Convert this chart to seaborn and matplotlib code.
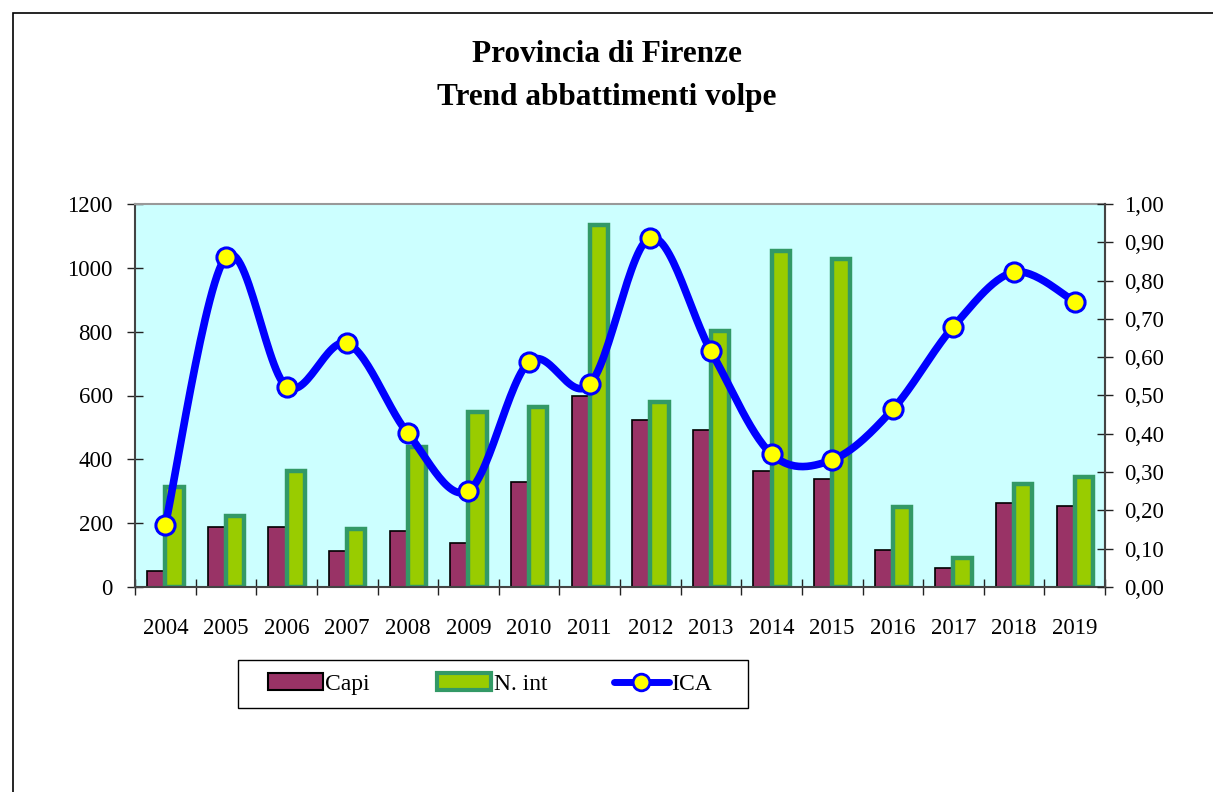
import numpy as np
import pandas as pd
import matplotlib
matplotlib.use("Agg")
import matplotlib.pyplot as plt
import seaborn as sns
from matplotlib.patches import Patch, Rectangle
from matplotlib.lines import Line2D
from matplotlib.ticker import FuncFormatter, MultipleLocator, FixedLocator

years = ["2004", "2005", "2006", "2007", "2008", "2009", "2010", "2011",
         "2012", "2013", "2014", "2015", "2016", "2017", "2018", "2019"]
capi = [51, 189, 187, 113, 175, 137, 330, 597, 522, 492, 364, 337, 115, 58, 262, 255]
n_int = [314, 222, 363, 181, 440, 548, 565, 1135, 580, 802, 1053, 1028, 250, 92, 323, 346]
ica = [0.162, 0.862, 0.523, 0.636, 0.401, 0.251, 0.588, 0.529,
       0.912, 0.616, 0.347, 0.332, 0.464, 0.680, 0.822, 0.745]

sns.set_theme(style="white")
plt.rcParams['font.family'] = ['Liberation Serif', 'DejaVu Serif']
plt.rcParams['text.color'] = 'black'
plt.rcParams['xtick.color'] = 'black'
plt.rcParams['ytick.color'] = 'black'
plt.rcParams['axes.labelcolor'] = 'black'

CAPI_C = "#993366"
NINT_C = "#99CC00"
NINT_E = "#339966"
BG = "#CCFFFF"
BLUE = "#0000FF"

W, H = 1213, 792
fig = plt.figure(figsize=(12.13, 7.92), dpi=100)
fig.patch.set_facecolor("white")
fig.patches.append(Rectangle((13 / W, -0.1), 1.2, 1 - 13 / H + 0.1,
                             transform=fig.transFigure, fill=False,
                             edgecolor="black", linewidth=1.2))

ax = fig.add_axes([135 / W, 1 - 587 / H, 970 / W, 383 / H])
ax.set_facecolor(BG)

df = pd.DataFrame({
    "Anno": years * 2,
    "Valore": capi + n_int,
    "Serie": ["Capi"] * len(years) + ["N. int"] * len(years),
})
sns.barplot(data=df, x="Anno", y="Valore", hue="Serie",
            palette=[CAPI_C, NINT_C], width=0.6, gap=0, ax=ax,
            legend=False, saturation=1, errorbar=None)
for i, cont in enumerate(ax.containers):
    for p in cont.patches:
        if i == 0:
            p.set_edgecolor("black")
            p.set_linewidth(1.2)
        else:
            p.set_edgecolor(NINT_E)
            p.set_linewidth(3.2)

ax.set_xlim(-0.5, len(years) - 0.5)
ax.set_ylim(0, 1200)
ax.yaxis.set_major_locator(MultipleLocator(200))
ax.set_xlabel("")
ax.set_ylabel("")
ax.xaxis.set_major_locator(FixedLocator(range(len(years))))
ax.set_xticklabels(years)
ax.xaxis.set_minor_locator(FixedLocator(np.arange(-0.5, len(years), 1.0)))
ax.tick_params(axis="x", which="major", length=0, labelsize=16.5, pad=22)
ax.tick_params(axis="x", which="minor", direction="inout", length=12, width=1, color="#222222", bottom=True)
ax.tick_params(axis="y", direction="inout", length=12, width=1, labelsize=16.5, pad=10,
               color="#222222", left=True)
for s in ["top", "right"]:
    ax.spines[s].set_color("#999999")
    ax.spines[s].set_linewidth(1.5)
for s in ["left", "bottom"]:
    ax.spines[s].set_color("#444444")
    ax.spines[s].set_linewidth(1.5)

ax2 = ax.twinx()
ax2.set_ylim(0, 1.0)
ax2.yaxis.set_major_locator(MultipleLocator(0.1))
ax2.yaxis.set_major_formatter(FuncFormatter(lambda v, p: f"{v:.2f}".replace(".", ",")))
ax2.tick_params(axis="y", direction="inout", length=12, width=1, labelsize=16.5, pad=8,
                color="#222222", right=True)
ax2.spines["right"].set_color("#444444")
ax2.spines["right"].set_linewidth(1.5)
for s in ["top", "left", "bottom"]:
    ax2.spines[s].set_visible(False)

# smoothed (Catmull-Rom) curve through the ICA points, like Excel's smoothed line
xp = np.arange(len(ica), dtype=float)
yp = np.array(ica)
P = np.vstack([xp, yp]).T
Pe = np.vstack([P[0], P, P[-1]])
curve = []
for i in range(1, len(Pe) - 2):
    p0, p1, p2, p3 = Pe[i - 1], Pe[i], Pe[i + 1], Pe[i + 2]
    t = np.linspace(0, 1, 30)[:, None]
    seg = 0.5 * ((2 * p1) + (-p0 + p2) * t + (2 * p0 - 5 * p1 + 4 * p2 - p3) * t ** 2
                 + (-p0 + 3 * p1 - 3 * p2 + p3) * t ** 3)
    curve.append(seg)
curve = np.vstack(curve)
sns.lineplot(x=curve[:, 0], y=curve[:, 1], sort=False, ax=ax2, color=BLUE,
             linewidth=5.5, estimator=None, zorder=3)
sns.scatterplot(x=xp, y=yp, ax=ax2, color="#FFFF00", edgecolor=BLUE, s=190,
                linewidth=2.2, zorder=4)
ax2.set_xlim(-0.5, len(years) - 0.5)
ax2.set_ylabel("")

fig.text(0.5, 1 - 54 / H, "Provincia di Firenze", ha="center", va="center",
         fontsize=22.5, fontweight="bold")
fig.text(0.5, 1 - 98 / H, "Trend abbattimenti volpe", ha="center", va="center",
         fontsize=22.5, fontweight="bold")

# legend box (drawn as figure rectangle) and entries
fig.patches.append(Rectangle((238 / W, 1 - 708 / H), 510 / W, 48 / H,
                             transform=fig.transFigure, fill=False,
                             edgecolor="black", linewidth=1.0))
handles = [
    Patch(facecolor=CAPI_C, edgecolor="black", linewidth=1.5, label="Capi"),
    Patch(facecolor=NINT_C, edgecolor=NINT_E, linewidth=3, label="N. int"),
    Line2D([0], [0], color=BLUE, linewidth=5, marker="o", markersize=12,
           markerfacecolor="#FFFF00", markeredgecolor=BLUE, markeredgewidth=2, label="ICA"),
]
leg = fig.legend(handles=handles, loc="center", bbox_to_anchor=(490 / W, 1 - 684 / H),
                 ncol=3, fontsize=17, frameon=False,
                 handlelength=2.3, handletextpad=0.1, columnspacing=2.85,
                 borderpad=0.55, borderaxespad=0)

fig.savefig("out.png", dpi=100)
